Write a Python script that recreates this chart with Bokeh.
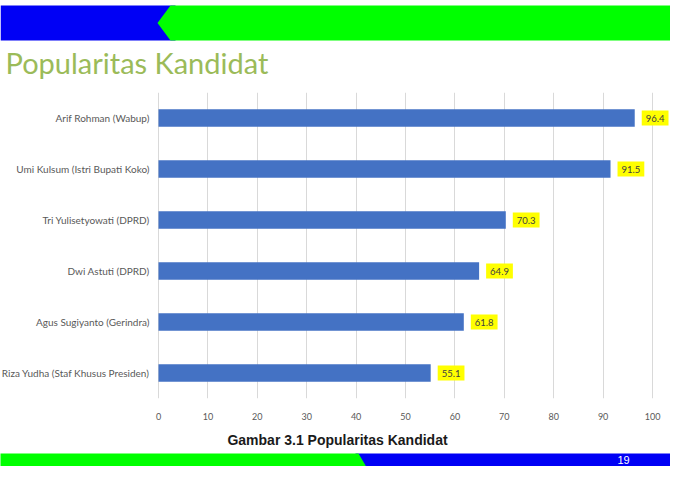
from bokeh.plotting import figure
from bokeh.models import Range1d, FactorRange, FixedTicker, ColumnDataSource
from bokeh.layouts import column
from bokeh.core.properties import value
from bokeh.embed import file_html
from bokeh.resources import INLINE

# ---- data ----
candidates = ["Arif Rohman (Wabup)", "Umi Kulsum (Istri Bupati Koko)", "Tri Yulisetyowati (DPRD)",
              "Dwi Astuti (DPRD)", "Agus Sugiyanto (Gerindra)", "Riza Yudha (Staf Khusus Presiden)"]
popularity = [96.4, 91.5, 70.3, 64.9, 61.8, 55.1]
x_ticks = [0, 10, 20, 30, 40, 50, 60, 70, 80, 90, 100]
slide_title = "Popularitas Kandidat"
caption = "Gambar 3.1 Popularitas Kandidat"
page_number = "19"

W = 670
BLUE = "#0000F5"
GREEN = "#00FF00"


def bare(fig):
    fig.axis.visible = False
    fig.grid.visible = False
    fig.outline_line_color = None
    return fig


# ---- top: banner + title (slide decoration, pixel coordinates) ----
top = bare(figure(width=W, height=84, x_range=Range1d(0, W), y_range=Range1d(84, 0),
                  output_backend="svg", toolbar_location=None, min_border=0))
top.quad(left=[0], right=[175], top=[5], bottom=[40], fill_color=BLUE, line_color=None)
top.patch(x=[170, 680, 680, 170, 157], y=[5, 5, 40, 40, 22.5], fill_color=GREEN, line_color=None)
top.text(x=[5], y=[62], text=[slide_title], text_font=value("Lato"), text_font_size="29px",
         text_color="#9BBB59", text_baseline="middle", text_align="left")

# ---- main chart ----
src = ColumnDataSource(dict(candidate=candidates, popularity=popularity,
                            label=[f"{v:.1f}" for v in popularity]))
p = figure(width=W, height=340, x_range=Range1d(-31.98, 103.64),
           y_range=FactorRange(factors=list(reversed(candidates))),
           output_backend="svg", toolbar_location=None,
           min_border_left=0, min_border_right=0, min_border_top=8, min_border_bottom=26)
p.outline_line_color = None
p.hbar(y="candidate", right="popularity", left=0, height=0.34, source=src,
       fill_color="#4472C4", line_color=None)
# category labels, placed through the y scale just left of the value axis origin
p.text(x=0, y="candidate", text="candidate", source=src, x_offset=-9,
       text_align="right", text_baseline="middle",
       text_font=value("Lato"), text_font_size="10px", text_color="#595959")
# value labels
p.text(x="popularity", y="candidate", text="label", source=src,
       x_offset=7, y_offset=0, text_baseline="middle", text_align="left",
       text_font=value("Lato"), text_font_size="9.5px", text_color="#404040",
       background_fill_color="#FFFF00", padding=4)
p.yaxis.visible = False
p.xaxis.ticker = FixedTicker(ticks=x_ticks)
p.xgrid.ticker = FixedTicker(ticks=x_ticks)
p.xgrid.grid_line_color = "#D9D9D9"
p.ygrid.grid_line_color = None
p.xaxis.axis_line_color = None
p.xaxis.major_tick_line_color = None
p.xaxis.minor_tick_line_color = None
p.xaxis.major_label_text_font = "Lato"
p.xaxis.major_label_text_font_size = "9px"
p.xaxis.major_label_text_color = "#595959"
p.xaxis.major_label_standoff = 8

# ---- bottom: caption + banner ----
bot = bare(figure(width=W, height=42, x_range=Range1d(0, W), y_range=Range1d(466, 424),
                  output_backend="svg", toolbar_location=None, min_border=0))
bot.text(x=[337], y=[439], text=[caption], text_font=value("Liberation Sans"),
         text_font_size="14px", text_font_style="bold", text_color="#1A1A1A",
         text_align="center", text_baseline="middle")
bot.quad(left=[355], right=[680], top=[453], bottom=[470], fill_color=BLUE, line_color=None)
bot.patch(x=[-5, 358, 368, -5], y=[453, 453, 470, 470], fill_color=GREEN, line_color=None)
bot.text(x=[623], y=[459.5], text=[page_number], text_font=value("Liberation Sans"),
         text_font_size="11px", text_color="#FFFFFF", text_align="center", text_baseline="middle")

layout = column(top, p, bot, spacing=0)
open("out.html", "w").write(file_html(layout, INLINE))
